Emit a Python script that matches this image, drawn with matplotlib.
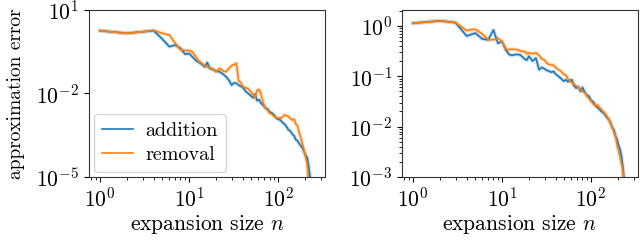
import matplotlib
matplotlib.use("Agg")
import matplotlib.pyplot as plt
from matplotlib.ticker import NullLocator

plt.rcParams["font.family"] = "cmr10"
plt.rcParams["mathtext.fontset"] = "cm"
plt.rcParams["axes.formatter.use_mathtext"] = True
plt.rcParams["axes.unicode_minus"] = False
plt.rcParams["font.size"] = 15.5

# expansion sizes (shared grid)
n = [1, 2, 3, 4, 5, 6, 7, 8, 9, 10, 11, 12, 13, 14, 15, 16, 17, 18, 19, 20,
     22, 24, 26, 28, 30, 32, 34, 36, 38, 40, 43, 46, 49, 52, 55, 58, 61, 64,
     68, 72, 76, 80, 85, 90, 95, 100, 106, 112, 118, 124, 130, 137, 144, 151,
     158, 165, 172, 180, 188, 196, 204, 212, 220, 228, 234]

# left panel
left_addition = [1.8, 1.45, 1.65, 1.8, 0.9, 0.48, 0.55, 0.42, 0.26, 0.27,
                 0.2, 0.15, 0.13, 0.11, 0.09, 0.13, 0.08, 0.075, 0.07, 0.065,
                 0.06, 0.05, 0.04, 0.03, 0.02, 0.024, 0.023, 0.02, 0.018, 0.017,
                 0.012, 0.01, 0.0085, 0.007, 0.0095, 0.0055, 0.006, 0.0045,
                 0.0038, 0.003, 0.0028, 0.0022, 0.002, 0.0017, 0.0013, 0.0012,
                 0.0011, 0.0009, 0.0008, 0.00065, 0.0005, 0.00045, 0.00035,
                 0.0003, 0.00022, 0.0002, 0.00016, 0.00013, 0.00011, 8e-5,
                 6e-5, 5e-5, 2.5e-5, 1e-5, 4e-6]
left_removal = [1.8, 1.45, 1.66, 1.85, 1.45, 1.26, 0.63, 0.37, 0.35, 0.35,
                0.3, 0.2, 0.14, 0.12, 0.1, 0.09, 0.085, 0.08, 0.07, 0.06,
                0.08, 0.065, 0.06, 0.08, 0.1, 0.11, 0.12, 0.028, 0.025, 0.018,
                0.016, 0.015, 0.012, 0.0095, 0.007, 0.013, 0.014, 0.01,
                0.0045, 0.003, 0.0025, 0.002, 0.0018, 0.0015, 0.0014, 0.0013,
                0.0013, 0.0014, 0.0017, 0.0016, 0.0015, 0.0013, 0.0011,
                0.0012, 0.0008, 0.0007, 0.0004, 0.00025, 0.00015, 9e-5,
                5e-5, 3e-5, 6e-6, 3e-6, 2e-6]

# right panel
right_addition = [1.13, 1.26, 1.16, 0.63, 0.72, 0.55, 0.53, 0.83, 0.45, 0.49,
                  0.335, 0.27, 0.26, 0.27, 0.27, 0.265, 0.24, 0.22, 0.21, 0.25,
                  0.2, 0.23, 0.135, 0.15, 0.14, 0.13, 0.125, 0.12, 0.125, 0.11,
                  0.1, 0.09, 0.08, 0.085, 0.078, 0.082, 0.085, 0.065, 0.058,
                  0.062, 0.05, 0.06, 0.048, 0.042, 0.04, 0.033, 0.031, 0.026,
                  0.024, 0.022, 0.02, 0.019, 0.017, 0.015, 0.014, 0.012,
                  0.0098, 0.0087, 0.0065, 0.0055, 0.0042, 0.0035, 0.0025,
                  0.0015, 0.0009]
right_removal = [1.13, 1.26, 1.16, 0.81, 0.86, 0.69, 0.53, 0.53, 0.57, 0.49,
                 0.35, 0.335, 0.345, 0.34, 0.335, 0.32, 0.31, 0.31, 0.28, 0.29,
                 0.28, 0.29, 0.26, 0.22, 0.21, 0.18, 0.17, 0.17, 0.165, 0.15,
                 0.135, 0.125, 0.11, 0.105, 0.09, 0.08, 0.075, 0.07, 0.064,
                 0.06, 0.055, 0.05, 0.047, 0.04, 0.036, 0.032, 0.028, 0.026,
                 0.027, 0.024, 0.022, 0.02, 0.018, 0.016, 0.0135, 0.012, 0.01,
                 0.0078, 0.0065, 0.0042, 0.0032, 0.0024, 0.0018, 0.0013, 0.0008]

fig = plt.figure(figsize=(6.4, 2.4), dpi=100)
ax1 = fig.add_axes([0.139, 0.2625, 0.369, 0.696])
ax2 = fig.add_axes([0.628, 0.2625, 0.369, 0.696])

for ax, add, rem in [(ax1, left_addition, left_removal),
                     (ax2, right_addition, right_removal)]:
    ax.plot(n, add, color="tab:blue", lw=3, alpha=0.2)
    ax.plot(n, rem, color="tab:orange", lw=3, alpha=0.2)
    ax.plot(n, add, color="tab:blue", lw=1.2, label="addition")
    ax.plot(n, rem, color="tab:orange", lw=1.2, label="removal")
    ax.set_xscale("log")
    ax.set_yscale("log")
    ax.set_xlim(0.75, 337)
    ax.set_xlabel("expansion size $n$", labelpad=2)
    for s in ax.spines.values():
        s.set_color("#333333")

ax1.set_ylim(1e-5, 10)
ax1.set_yticks([1e-5, 1e-2, 1e1])
ax1.yaxis.set_minor_locator(NullLocator())
ax1.set_ylabel("approximation error", fontsize=14, labelpad=8)
ax1.legend(loc="lower left", borderaxespad=0.25, handlelength=1.55,
           handletextpad=0.6, borderpad=0.4, labelspacing=0.3,
           fontsize=14.5)

ax2.set_ylim(1e-3, 2.07)

fig.savefig("out.png", dpi=100)
